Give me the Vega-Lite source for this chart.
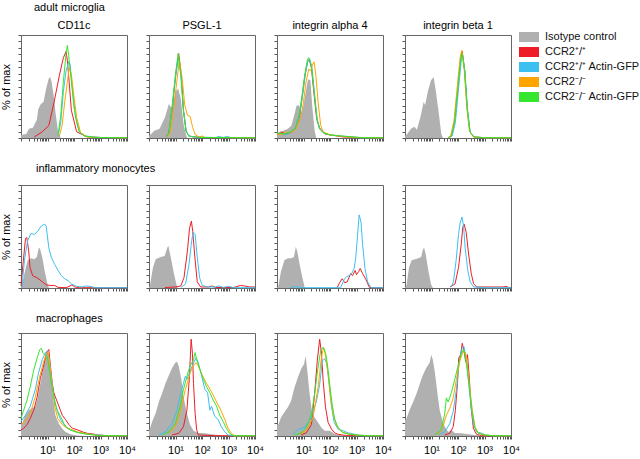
{
"$schema": "https://vega.github.io/schema/vega-lite/v6.json",
"padding": {"left": 0, "top": 2, "right": 0, "bottom": 0},
"background": "white",
"spacing": 21,
"config": {
 "view": {"stroke": "#666", "strokeWidth": 1},
 "title": {"font": "Liberation Sans", "fontSize": 11, "fontWeight": "normal", "color": "#000", "offset": 4},
 "axis": {"grid": false, "tickSize": 3, "domainColor": "#666", "tickColor": "#555", "labelFont": "Liberation Sans", "labelFontSize": 11, "labelColor": "#000", "titleFont": "Liberation Sans", "titleFontSize": 11, "titleFontWeight": "normal", "titleColor": "#000", "labelOverlap": false, "labelFlush": false, "titlePadding": 6, "labelPadding": 5},
 "line": {"strokeWidth": 1},
 "legend": {"orient": "none", "legendX": 498, "legendY": -8, "title": null, "symbolType": "M-1,-0.5H1V0.5H-1Z", "symbolSize": 400, "labelFont": "Liberation Sans", "labelFontSize": 11, "labelColor": "#111", "rowPadding": 0, "labelOffset": 6, "symbolStrokeWidth": 0, "symbolOpacity": 1}
},
"datasets": {
"mg_CD11c": [
{"series":"iso","logFL":0,"pct":3},{"series":"iso","logFL":0.2,"pct":4},{"series":"iso","logFL":0.3,"pct":9},{"series":"iso","logFL":0.45,"pct":10},{"series":"iso","logFL":0.6,"pct":18},{"series":"iso","logFL":0.65,"pct":28},{"series":"iso","logFL":0.75,"pct":33},{"series":"iso","logFL":0.85,"pct":35},{"series":"iso","logFL":0.95,"pct":48},{"series":"iso","logFL":1.05,"pct":58},{"series":"iso","logFL":1.1,"pct":59},{"series":"iso","logFL":1.15,"pct":55},{"series":"iso","logFL":1.25,"pct":38},{"series":"iso","logFL":1.3,"pct":25},{"series":"iso","logFL":1.4,"pct":6},{"series":"iso","logFL":1.5,"pct":0},
{"series":"wt","logFL":0.5,"pct":1},{"series":"wt","logFL":0.8,"pct":6},{"series":"wt","logFL":1.05,"pct":12},{"series":"wt","logFL":1.25,"pct":35},{"series":"wt","logFL":1.45,"pct":61},{"series":"wt","logFL":1.6,"pct":78},{"series":"wt","logFL":1.7,"pct":84},{"series":"wt","logFL":1.75,"pct":75},{"series":"wt","logFL":1.8,"pct":60},{"series":"wt","logFL":1.9,"pct":27},{"series":"wt","logFL":2.1,"pct":6},{"series":"wt","logFL":2.5,"pct":1},{"series":"wt","logFL":3,"pct":0.5},{"series":"wt","logFL":4,"pct":0.3},
{"series":"wtGFP","logFL":1.4,"pct":2},{"series":"wtGFP","logFL":1.5,"pct":15},{"series":"wtGFP","logFL":1.6,"pct":45},{"series":"wtGFP","logFL":1.7,"pct":65},{"series":"wtGFP","logFL":1.8,"pct":74},{"series":"wtGFP","logFL":1.85,"pct":72},{"series":"wtGFP","logFL":1.95,"pct":45},{"series":"wtGFP","logFL":2.05,"pct":22},{"series":"wtGFP","logFL":2.2,"pct":6},{"series":"wtGFP","logFL":2.4,"pct":2},{"series":"wtGFP","logFL":3,"pct":0.5},{"series":"wtGFP","logFL":4,"pct":0.3},
{"series":"ko","logFL":1.45,"pct":2},{"series":"ko","logFL":1.55,"pct":12},{"series":"ko","logFL":1.65,"pct":35},{"series":"ko","logFL":1.75,"pct":55},{"series":"ko","logFL":1.82,"pct":68},{"series":"ko","logFL":1.9,"pct":62},{"series":"ko","logFL":2,"pct":40},{"series":"ko","logFL":2.1,"pct":20},{"series":"ko","logFL":2.25,"pct":5},{"series":"ko","logFL":2.5,"pct":1},{"series":"ko","logFL":3,"pct":0.5},{"series":"ko","logFL":4,"pct":0.3},
{"series":"koGFP","logFL":1.4,"pct":3},{"series":"koGFP","logFL":1.5,"pct":22},{"series":"koGFP","logFL":1.6,"pct":55},{"series":"koGFP","logFL":1.7,"pct":82},{"series":"koGFP","logFL":1.75,"pct":90},{"series":"koGFP","logFL":1.8,"pct":80},{"series":"koGFP","logFL":1.9,"pct":55},{"series":"koGFP","logFL":2,"pct":30},{"series":"koGFP","logFL":2.1,"pct":15},{"series":"koGFP","logFL":2.2,"pct":6},{"series":"koGFP","logFL":2.4,"pct":2},{"series":"koGFP","logFL":2.8,"pct":0.5},{"series":"koGFP","logFL":4,"pct":0.3}
],
"mg_PSGL1": [
{"series":"iso","logFL":0,"pct":2},{"series":"iso","logFL":0.2,"pct":7},{"series":"iso","logFL":0.4,"pct":9},{"series":"iso","logFL":0.6,"pct":20},{"series":"iso","logFL":0.75,"pct":33},{"series":"iso","logFL":0.85,"pct":29},{"series":"iso","logFL":1,"pct":45},{"series":"iso","logFL":1.1,"pct":48},{"series":"iso","logFL":1.2,"pct":38},{"series":"iso","logFL":1.3,"pct":14},{"series":"iso","logFL":1.4,"pct":3},{"series":"iso","logFL":1.45,"pct":0},
{"series":"wt","logFL":0.65,"pct":1},{"series":"wt","logFL":0.75,"pct":5},{"series":"wt","logFL":0.87,"pct":28},{"series":"wt","logFL":1,"pct":60},{"series":"wt","logFL":1.12,"pct":82},{"series":"wt","logFL":1.22,"pct":60},{"series":"wt","logFL":1.3,"pct":27},{"series":"wt","logFL":1.4,"pct":7},{"series":"wt","logFL":1.5,"pct":2},{"series":"wt","logFL":1.7,"pct":1},{"series":"wt","logFL":2,"pct":0.5},{"series":"wt","logFL":4,"pct":0.3},
{"series":"wtGFP","logFL":0.65,"pct":1},{"series":"wtGFP","logFL":0.75,"pct":4},{"series":"wtGFP","logFL":0.87,"pct":26},{"series":"wtGFP","logFL":1,"pct":58},{"series":"wtGFP","logFL":1.1,"pct":78},{"series":"wtGFP","logFL":1.2,"pct":62},{"series":"wtGFP","logFL":1.3,"pct":28},{"series":"wtGFP","logFL":1.4,"pct":7},{"series":"wtGFP","logFL":1.5,"pct":2},{"series":"wtGFP","logFL":1.7,"pct":1},{"series":"wtGFP","logFL":2.5,"pct":0.5},{"series":"wtGFP","logFL":2.65,"pct":1.5},{"series":"wtGFP","logFL":2.8,"pct":0.5},{"series":"wtGFP","logFL":2.95,"pct":1.5},{"series":"wtGFP","logFL":3.1,"pct":0.3},{"series":"wtGFP","logFL":4,"pct":0.3},
{"series":"ko","logFL":0.7,"pct":1},{"series":"ko","logFL":0.8,"pct":6},{"series":"ko","logFL":0.92,"pct":25},{"series":"ko","logFL":1.05,"pct":55},{"series":"ko","logFL":1.15,"pct":76},{"series":"ko","logFL":1.25,"pct":58},{"series":"ko","logFL":1.35,"pct":32},{"series":"ko","logFL":1.45,"pct":22},{"series":"ko","logFL":1.55,"pct":21},{"series":"ko","logFL":1.65,"pct":10},{"series":"ko","logFL":1.75,"pct":3},{"series":"ko","logFL":1.9,"pct":1},{"series":"ko","logFL":2,"pct":2},{"series":"ko","logFL":2.1,"pct":0.5},{"series":"ko","logFL":4,"pct":0.3},
{"series":"koGFP","logFL":0.65,"pct":1},{"series":"koGFP","logFL":0.75,"pct":5},{"series":"koGFP","logFL":0.87,"pct":30},{"series":"koGFP","logFL":1,"pct":62},{"series":"koGFP","logFL":1.1,"pct":82},{"series":"koGFP","logFL":1.2,"pct":62},{"series":"koGFP","logFL":1.3,"pct":26},{"series":"koGFP","logFL":1.4,"pct":6},{"series":"koGFP","logFL":1.5,"pct":2},{"series":"koGFP","logFL":1.7,"pct":1},{"series":"koGFP","logFL":2,"pct":0.5},{"series":"koGFP","logFL":4,"pct":0.3}
],
"mg_a4": [
{"series":"iso","logFL":0,"pct":3},{"series":"iso","logFL":0.23,"pct":7},{"series":"iso","logFL":0.41,"pct":9},{"series":"iso","logFL":0.54,"pct":12},{"series":"iso","logFL":0.67,"pct":24},{"series":"iso","logFL":0.73,"pct":31},{"series":"iso","logFL":0.83,"pct":32},{"series":"iso","logFL":0.92,"pct":24},{"series":"iso","logFL":0.98,"pct":29},{"series":"iso","logFL":1.08,"pct":44},{"series":"iso","logFL":1.17,"pct":57},{"series":"iso","logFL":1.26,"pct":56},{"series":"iso","logFL":1.33,"pct":31},{"series":"iso","logFL":1.42,"pct":7},{"series":"iso","logFL":1.48,"pct":0},
{"series":"wt","logFL":0,"pct":3},{"series":"wt","logFL":0.15,"pct":6},{"series":"wt","logFL":0.3,"pct":4},{"series":"wt","logFL":0.5,"pct":5},{"series":"wt","logFL":0.7,"pct":9},{"series":"wt","logFL":0.85,"pct":22},{"series":"wt","logFL":0.95,"pct":40},{"series":"wt","logFL":1.05,"pct":60},{"series":"wt","logFL":1.15,"pct":74},{"series":"wt","logFL":1.22,"pct":76},{"series":"wt","logFL":1.3,"pct":68},{"series":"wt","logFL":1.4,"pct":42},{"series":"wt","logFL":1.5,"pct":18},{"series":"wt","logFL":1.6,"pct":10},{"series":"wt","logFL":1.7,"pct":7},{"series":"wt","logFL":1.8,"pct":4},{"series":"wt","logFL":2,"pct":3},{"series":"wt","logFL":2.5,"pct":1},{"series":"wt","logFL":3,"pct":0.5},{"series":"wt","logFL":4,"pct":0.3},
{"series":"wtGFP","logFL":0,"pct":4},{"series":"wtGFP","logFL":0.3,"pct":3},{"series":"wtGFP","logFL":0.5,"pct":5},{"series":"wtGFP","logFL":0.7,"pct":9},{"series":"wtGFP","logFL":0.87,"pct":24},{"series":"wtGFP","logFL":0.97,"pct":42},{"series":"wtGFP","logFL":1.07,"pct":62},{"series":"wtGFP","logFL":1.17,"pct":75},{"series":"wtGFP","logFL":1.23,"pct":77},{"series":"wtGFP","logFL":1.32,"pct":68},{"series":"wtGFP","logFL":1.42,"pct":42},{"series":"wtGFP","logFL":1.52,"pct":18},{"series":"wtGFP","logFL":1.62,"pct":9},{"series":"wtGFP","logFL":1.75,"pct":5},{"series":"wtGFP","logFL":2,"pct":3},{"series":"wtGFP","logFL":2.4,"pct":2},{"series":"wtGFP","logFL":2.9,"pct":1},{"series":"wtGFP","logFL":3.2,"pct":0.3},{"series":"wtGFP","logFL":4,"pct":0.3},
{"series":"ko","logFL":0,"pct":4},{"series":"ko","logFL":0.2,"pct":3},{"series":"ko","logFL":0.35,"pct":6},{"series":"ko","logFL":0.5,"pct":5},{"series":"ko","logFL":0.7,"pct":8},{"series":"ko","logFL":0.9,"pct":20},{"series":"ko","logFL":1,"pct":35},{"series":"ko","logFL":1.1,"pct":55},{"series":"ko","logFL":1.2,"pct":67},{"series":"ko","logFL":1.27,"pct":65},{"series":"ko","logFL":1.35,"pct":72},{"series":"ko","logFL":1.4,"pct":74},{"series":"ko","logFL":1.47,"pct":60},{"series":"ko","logFL":1.55,"pct":35},{"series":"ko","logFL":1.65,"pct":12},{"series":"ko","logFL":1.75,"pct":6},{"series":"ko","logFL":2,"pct":3},{"series":"ko","logFL":2.5,"pct":1.5},{"series":"ko","logFL":3,"pct":0.5},{"series":"ko","logFL":4,"pct":0.3},
{"series":"koGFP","logFL":0,"pct":5},{"series":"koGFP","logFL":0.3,"pct":4},{"series":"koGFP","logFL":0.5,"pct":6},{"series":"koGFP","logFL":0.7,"pct":10},{"series":"koGFP","logFL":0.85,"pct":25},{"series":"koGFP","logFL":0.95,"pct":42},{"series":"koGFP","logFL":1.05,"pct":62},{"series":"koGFP","logFL":1.15,"pct":76},{"series":"koGFP","logFL":1.2,"pct":78},{"series":"koGFP","logFL":1.3,"pct":70},{"series":"koGFP","logFL":1.4,"pct":45},{"series":"koGFP","logFL":1.5,"pct":20},{"series":"koGFP","logFL":1.6,"pct":9},{"series":"koGFP","logFL":1.75,"pct":5},{"series":"koGFP","logFL":2,"pct":3},{"series":"koGFP","logFL":2.4,"pct":2},{"series":"koGFP","logFL":2.9,"pct":1},{"series":"koGFP","logFL":3.2,"pct":0.3},{"series":"koGFP","logFL":4,"pct":0.3}
],
"mg_b1": [
{"series":"iso","logFL":0,"pct":2},{"series":"iso","logFL":0.08,"pct":4},{"series":"iso","logFL":0.23,"pct":9},{"series":"iso","logFL":0.35,"pct":11},{"series":"iso","logFL":0.45,"pct":8},{"series":"iso","logFL":0.6,"pct":22},{"series":"iso","logFL":0.7,"pct":35},{"series":"iso","logFL":0.76,"pct":32},{"series":"iso","logFL":0.86,"pct":45},{"series":"iso","logFL":0.98,"pct":56},{"series":"iso","logFL":1.08,"pct":59},{"series":"iso","logFL":1.15,"pct":48},{"series":"iso","logFL":1.27,"pct":25},{"series":"iso","logFL":1.37,"pct":4},{"series":"iso","logFL":1.43,"pct":0},
{"series":"wt","logFL":1.65,"pct":0.5},{"series":"wt","logFL":1.75,"pct":2},{"series":"wt","logFL":1.87,"pct":16},{"series":"wt","logFL":2,"pct":50},{"series":"wt","logFL":2.1,"pct":77},{"series":"wt","logFL":2.16,"pct":84},{"series":"wt","logFL":2.25,"pct":66},{"series":"wt","logFL":2.35,"pct":28},{"series":"wt","logFL":2.45,"pct":6},{"series":"wt","logFL":2.6,"pct":1},{"series":"wt","logFL":3,"pct":0.3},{"series":"wt","logFL":4,"pct":0.3},
{"series":"wtGFP","logFL":1.68,"pct":0.5},{"series":"wtGFP","logFL":1.78,"pct":2},{"series":"wtGFP","logFL":1.9,"pct":15},{"series":"wtGFP","logFL":2.02,"pct":48},{"series":"wtGFP","logFL":2.12,"pct":74},{"series":"wtGFP","logFL":2.18,"pct":80},{"series":"wtGFP","logFL":2.26,"pct":65},{"series":"wtGFP","logFL":2.36,"pct":28},{"series":"wtGFP","logFL":2.46,"pct":6},{"series":"wtGFP","logFL":2.6,"pct":1},{"series":"wtGFP","logFL":3,"pct":0.3},{"series":"wtGFP","logFL":4,"pct":0.3},
{"series":"ko","logFL":1.62,"pct":0.5},{"series":"ko","logFL":1.72,"pct":2},{"series":"ko","logFL":1.85,"pct":17},{"series":"ko","logFL":1.98,"pct":52},{"series":"ko","logFL":2.08,"pct":78},{"series":"ko","logFL":2.14,"pct":85},{"series":"ko","logFL":2.23,"pct":68},{"series":"ko","logFL":2.33,"pct":30},{"series":"ko","logFL":2.43,"pct":7},{"series":"ko","logFL":2.58,"pct":1},{"series":"ko","logFL":3,"pct":0.3},{"series":"ko","logFL":4,"pct":0.3},
{"series":"koGFP","logFL":1.65,"pct":0.5},{"series":"koGFP","logFL":1.75,"pct":2},{"series":"koGFP","logFL":1.87,"pct":16},{"series":"koGFP","logFL":2,"pct":50},{"series":"koGFP","logFL":2.1,"pct":76},{"series":"koGFP","logFL":2.16,"pct":82},{"series":"koGFP","logFL":2.25,"pct":65},{"series":"koGFP","logFL":2.35,"pct":28},{"series":"koGFP","logFL":2.45,"pct":6},{"series":"koGFP","logFL":2.6,"pct":1},{"series":"koGFP","logFL":3,"pct":0.3},{"series":"koGFP","logFL":4,"pct":0.3}
],
"mo_CD11c": [
{"series":"iso","logFL":0,"pct":0},{"series":"iso","logFL":0.04,"pct":3},{"series":"iso","logFL":0.13,"pct":14},{"series":"iso","logFL":0.25,"pct":27},{"series":"iso","logFL":0.38,"pct":29},{"series":"iso","logFL":0.5,"pct":28},{"series":"iso","logFL":0.6,"pct":30},{"series":"iso","logFL":0.67,"pct":39},{"series":"iso","logFL":0.72,"pct":38},{"series":"iso","logFL":0.8,"pct":30},{"series":"iso","logFL":0.89,"pct":17},{"series":"iso","logFL":0.98,"pct":6},{"series":"iso","logFL":1.05,"pct":0},
{"series":"wt","logFL":0,"pct":2},{"series":"wt","logFL":0.09,"pct":27},{"series":"wt","logFL":0.17,"pct":48},{"series":"wt","logFL":0.22,"pct":49},{"series":"wt","logFL":0.29,"pct":36},{"series":"wt","logFL":0.34,"pct":20},{"series":"wt","logFL":0.44,"pct":12},{"series":"wt","logFL":0.6,"pct":10},{"series":"wt","logFL":0.76,"pct":7},{"series":"wt","logFL":0.95,"pct":3},{"series":"wt","logFL":1.1,"pct":2.5},{"series":"wt","logFL":1.27,"pct":2.5},{"series":"wt","logFL":1.4,"pct":0.6},{"series":"wt","logFL":1.7,"pct":0.3},{"series":"wt","logFL":1.85,"pct":2},{"series":"wt","logFL":1.92,"pct":3},{"series":"wt","logFL":2.03,"pct":1},{"series":"wt","logFL":2.2,"pct":0.3},{"series":"wt","logFL":4,"pct":0.3},
{"series":"wtGFP","logFL":0.04,"pct":1},{"series":"wtGFP","logFL":0.13,"pct":27},{"series":"wtGFP","logFL":0.25,"pct":46},{"series":"wtGFP","logFL":0.38,"pct":53},{"series":"wtGFP","logFL":0.5,"pct":52},{"series":"wtGFP","logFL":0.63,"pct":55},{"series":"wtGFP","logFL":0.76,"pct":60},{"series":"wtGFP","logFL":0.89,"pct":62},{"series":"wtGFP","logFL":0.95,"pct":60},{"series":"wtGFP","logFL":1.05,"pct":39},{"series":"wtGFP","logFL":1.14,"pct":30},{"series":"wtGFP","logFL":1.27,"pct":23},{"series":"wtGFP","logFL":1.4,"pct":17},{"series":"wtGFP","logFL":1.52,"pct":12},{"series":"wtGFP","logFL":1.65,"pct":9},{"series":"wtGFP","logFL":1.78,"pct":7},{"series":"wtGFP","logFL":1.9,"pct":4},{"series":"wtGFP","logFL":2.1,"pct":1.6},{"series":"wtGFP","logFL":2.3,"pct":1},{"series":"wtGFP","logFL":2.45,"pct":2},{"series":"wtGFP","logFL":2.6,"pct":1.6},{"series":"wtGFP","logFL":2.8,"pct":0.3},{"series":"wtGFP","logFL":4,"pct":0.3}
],
"mo_PSGL1": [
{"series":"iso","logFL":0,"pct":0},{"series":"iso","logFL":0.04,"pct":3},{"series":"iso","logFL":0.15,"pct":20},{"series":"iso","logFL":0.25,"pct":28},{"series":"iso","logFL":0.44,"pct":30},{"series":"iso","logFL":0.59,"pct":31},{"series":"iso","logFL":0.69,"pct":39},{"series":"iso","logFL":0.73,"pct":41},{"series":"iso","logFL":0.82,"pct":30},{"series":"iso","logFL":0.94,"pct":14},{"series":"iso","logFL":1.04,"pct":3},{"series":"iso","logFL":1.09,"pct":0},
{"series":"wt","logFL":0.6,"pct":0.5},{"series":"wt","logFL":1,"pct":1},{"series":"wt","logFL":1.2,"pct":2},{"series":"wt","logFL":1.32,"pct":10},{"series":"wt","logFL":1.45,"pct":36},{"series":"wt","logFL":1.53,"pct":58},{"series":"wt","logFL":1.6,"pct":65},{"series":"wt","logFL":1.65,"pct":55},{"series":"wt","logFL":1.73,"pct":30},{"series":"wt","logFL":1.82,"pct":6},{"series":"wt","logFL":1.95,"pct":1},{"series":"wt","logFL":2.25,"pct":1},{"series":"wt","logFL":2.38,"pct":2},{"series":"wt","logFL":2.5,"pct":0.5},{"series":"wt","logFL":3.2,"pct":0.5},{"series":"wt","logFL":3.45,"pct":2.5},{"series":"wt","logFL":3.6,"pct":2},{"series":"wt","logFL":3.8,"pct":1},{"series":"wt","logFL":4,"pct":1},
{"series":"wtGFP","logFL":1.2,"pct":0.5},{"series":"wtGFP","logFL":1.38,"pct":4},{"series":"wtGFP","logFL":1.51,"pct":23},{"series":"wtGFP","logFL":1.61,"pct":46},{"series":"wtGFP","logFL":1.67,"pct":54},{"series":"wtGFP","logFL":1.74,"pct":52},{"series":"wtGFP","logFL":1.82,"pct":30},{"series":"wtGFP","logFL":1.91,"pct":10},{"series":"wtGFP","logFL":2.01,"pct":2.5},{"series":"wtGFP","logFL":2.2,"pct":1},{"series":"wtGFP","logFL":2.5,"pct":1},{"series":"wtGFP","logFL":2.64,"pct":2},{"series":"wtGFP","logFL":2.8,"pct":0.5},{"series":"wtGFP","logFL":3,"pct":1.6},{"series":"wtGFP","logFL":3.2,"pct":0.3},{"series":"wtGFP","logFL":4,"pct":0.3}
],
"mo_a4": [
{"series":"iso","logFL":0,"pct":0},{"series":"iso","logFL":0.05,"pct":2},{"series":"iso","logFL":0.15,"pct":16},{"series":"iso","logFL":0.28,"pct":27},{"series":"iso","logFL":0.41,"pct":29},{"series":"iso","logFL":0.54,"pct":29},{"series":"iso","logFL":0.64,"pct":30},{"series":"iso","logFL":0.71,"pct":40},{"series":"iso","logFL":0.77,"pct":35},{"series":"iso","logFL":0.86,"pct":22},{"series":"iso","logFL":0.96,"pct":10},{"series":"iso","logFL":1.05,"pct":0},
{"series":"wt","logFL":2.27,"pct":0.3},{"series":"wt","logFL":2.36,"pct":5},{"series":"wt","logFL":2.46,"pct":9},{"series":"wt","logFL":2.56,"pct":5},{"series":"wt","logFL":2.65,"pct":6},{"series":"wt","logFL":2.78,"pct":14},{"series":"wt","logFL":2.85,"pct":12},{"series":"wt","logFL":2.95,"pct":17},{"series":"wt","logFL":3,"pct":13},{"series":"wt","logFL":3.08,"pct":16},{"series":"wt","logFL":3.14,"pct":19},{"series":"wt","logFL":3.23,"pct":14},{"series":"wt","logFL":3.36,"pct":8},{"series":"wt","logFL":3.49,"pct":0.3},{"series":"wt","logFL":4,"pct":0.3},
{"series":"wtGFP","logFL":0.5,"pct":0.3},{"series":"wtGFP","logFL":0.6,"pct":1.2},{"series":"wtGFP","logFL":0.75,"pct":1.2},{"series":"wtGFP","logFL":0.85,"pct":0.3},{"series":"wtGFP","logFL":2.4,"pct":0.3},{"series":"wtGFP","logFL":2.53,"pct":8},{"series":"wtGFP","logFL":2.62,"pct":11},{"series":"wtGFP","logFL":2.72,"pct":12},{"series":"wtGFP","logFL":2.82,"pct":14},{"series":"wtGFP","logFL":2.91,"pct":19},{"series":"wtGFP","logFL":2.97,"pct":29},{"series":"wtGFP","logFL":3.04,"pct":51},{"series":"wtGFP","logFL":3.1,"pct":71},{"series":"wtGFP","logFL":3.17,"pct":64},{"series":"wtGFP","logFL":3.23,"pct":42},{"series":"wtGFP","logFL":3.32,"pct":19},{"series":"wtGFP","logFL":3.42,"pct":6},{"series":"wtGFP","logFL":3.55,"pct":0.3},{"series":"wtGFP","logFL":4,"pct":0.3}
],
"mo_b1": [
{"series":"iso","logFL":0,"pct":0},{"series":"iso","logFL":0.06,"pct":3},{"series":"iso","logFL":0.15,"pct":20},{"series":"iso","logFL":0.25,"pct":27},{"series":"iso","logFL":0.38,"pct":28},{"series":"iso","logFL":0.5,"pct":29},{"series":"iso","logFL":0.61,"pct":30},{"series":"iso","logFL":0.67,"pct":37},{"series":"iso","logFL":0.72,"pct":39},{"series":"iso","logFL":0.78,"pct":33},{"series":"iso","logFL":0.88,"pct":17},{"series":"iso","logFL":0.98,"pct":4},{"series":"iso","logFL":1.05,"pct":0},
{"series":"wt","logFL":1.7,"pct":1},{"series":"wt","logFL":1.89,"pct":4},{"series":"wt","logFL":2.02,"pct":20},{"series":"wt","logFL":2.12,"pct":42},{"series":"wt","logFL":2.18,"pct":59},{"series":"wt","logFL":2.23,"pct":62},{"series":"wt","logFL":2.31,"pct":54},{"series":"wt","logFL":2.4,"pct":33},{"series":"wt","logFL":2.5,"pct":14},{"series":"wt","logFL":2.59,"pct":4},{"series":"wt","logFL":2.71,"pct":1},{"series":"wt","logFL":2.9,"pct":1},{"series":"wt","logFL":3.72,"pct":1},{"series":"wt","logFL":3.81,"pct":1.6},{"series":"wt","logFL":3.91,"pct":0.5},{"series":"wt","logFL":4,"pct":0.5},
{"series":"wtGFP","logFL":1.74,"pct":1},{"series":"wtGFP","logFL":1.83,"pct":6},{"series":"wtGFP","logFL":1.93,"pct":27},{"series":"wtGFP","logFL":2.02,"pct":52},{"series":"wtGFP","logFL":2.08,"pct":63},{"series":"wtGFP","logFL":2.15,"pct":69},{"series":"wtGFP","logFL":2.21,"pct":60},{"series":"wtGFP","logFL":2.27,"pct":39},{"series":"wtGFP","logFL":2.37,"pct":17},{"series":"wtGFP","logFL":2.46,"pct":6},{"series":"wtGFP","logFL":2.59,"pct":1},{"series":"wtGFP","logFL":3,"pct":0.3},{"series":"wtGFP","logFL":4,"pct":0.3}
],
"ma_CD11c": [
{"series":"iso","logFL":0,"pct":12},{"series":"iso","logFL":0.04,"pct":12},{"series":"iso","logFL":0.16,"pct":20},{"series":"iso","logFL":0.29,"pct":25},{"series":"iso","logFL":0.42,"pct":27},{"series":"iso","logFL":0.54,"pct":29},{"series":"iso","logFL":0.61,"pct":35},{"series":"iso","logFL":0.71,"pct":48},{"series":"iso","logFL":0.8,"pct":61},{"series":"iso","logFL":0.89,"pct":72},{"series":"iso","logFL":0.96,"pct":79},{"series":"iso","logFL":1.01,"pct":81},{"series":"iso","logFL":1.08,"pct":72},{"series":"iso","logFL":1.14,"pct":55},{"series":"iso","logFL":1.22,"pct":35},{"series":"iso","logFL":1.3,"pct":20},{"series":"iso","logFL":1.43,"pct":12},{"series":"iso","logFL":1.56,"pct":7},{"series":"iso","logFL":1.68,"pct":4},{"series":"iso","logFL":1.87,"pct":1.6},{"series":"iso","logFL":2.13,"pct":0.6},{"series":"iso","logFL":2.5,"pct":0},
{"series":"wt","logFL":0,"pct":6},{"series":"wt","logFL":0.1,"pct":7.5},{"series":"wt","logFL":0.23,"pct":11},{"series":"wt","logFL":0.35,"pct":17},{"series":"wt","logFL":0.48,"pct":25},{"series":"wt","logFL":0.61,"pct":38},{"series":"wt","logFL":0.73,"pct":56},{"series":"wt","logFL":0.86,"pct":69},{"series":"wt","logFL":0.96,"pct":81},{"series":"wt","logFL":1.05,"pct":84},{"series":"wt","logFL":1.11,"pct":68},{"series":"wt","logFL":1.18,"pct":51},{"series":"wt","logFL":1.24,"pct":42},{"series":"wt","logFL":1.34,"pct":35},{"series":"wt","logFL":1.43,"pct":29},{"series":"wt","logFL":1.56,"pct":20},{"series":"wt","logFL":1.68,"pct":16},{"series":"wt","logFL":1.81,"pct":11},{"series":"wt","logFL":1.94,"pct":7.5},{"series":"wt","logFL":2.13,"pct":6},{"series":"wt","logFL":2.32,"pct":4},{"series":"wt","logFL":2.5,"pct":2.6},{"series":"wt","logFL":2.7,"pct":2},{"series":"wt","logFL":2.89,"pct":1},{"series":"wt","logFL":3.27,"pct":0.3},{"series":"wt","logFL":4,"pct":0.3},
{"series":"wtGFP","logFL":0,"pct":14},{"series":"wtGFP","logFL":0.16,"pct":20},{"series":"wtGFP","logFL":0.35,"pct":29},{"series":"wtGFP","logFL":0.54,"pct":45},{"series":"wtGFP","logFL":0.66,"pct":61},{"series":"wtGFP","logFL":0.8,"pct":74},{"series":"wtGFP","logFL":0.92,"pct":81},{"series":"wtGFP","logFL":0.99,"pct":82},{"series":"wtGFP","logFL":1.05,"pct":77},{"series":"wtGFP","logFL":1.14,"pct":58},{"series":"wtGFP","logFL":1.24,"pct":38},{"series":"wtGFP","logFL":1.37,"pct":24},{"series":"wtGFP","logFL":1.49,"pct":16},{"series":"wtGFP","logFL":1.68,"pct":9},{"series":"wtGFP","logFL":1.87,"pct":6},{"series":"wtGFP","logFL":2.13,"pct":3.6},{"series":"wtGFP","logFL":2.5,"pct":2},{"series":"wtGFP","logFL":2.89,"pct":1},{"series":"wtGFP","logFL":3.27,"pct":0.3},{"series":"wtGFP","logFL":4,"pct":0.3},
{"series":"ko","logFL":0,"pct":11},{"series":"ko","logFL":0.16,"pct":14},{"series":"ko","logFL":0.35,"pct":22},{"series":"ko","logFL":0.54,"pct":38},{"series":"ko","logFL":0.71,"pct":58},{"series":"ko","logFL":0.84,"pct":71},{"series":"ko","logFL":0.96,"pct":80},{"series":"ko","logFL":1.03,"pct":81},{"series":"ko","logFL":1.09,"pct":68},{"series":"ko","logFL":1.18,"pct":48},{"series":"ko","logFL":1.27,"pct":29},{"series":"ko","logFL":1.39,"pct":17},{"series":"ko","logFL":1.56,"pct":11},{"series":"ko","logFL":1.75,"pct":7.5},{"series":"ko","logFL":1.94,"pct":6},{"series":"ko","logFL":2.13,"pct":4},{"series":"ko","logFL":2.5,"pct":2},{"series":"ko","logFL":3,"pct":0.3},{"series":"ko","logFL":4,"pct":0.3},
{"series":"koGFP","logFL":0,"pct":17},{"series":"koGFP","logFL":0.1,"pct":25},{"series":"koGFP","logFL":0.23,"pct":35},{"series":"koGFP","logFL":0.35,"pct":48},{"series":"koGFP","logFL":0.48,"pct":64},{"series":"koGFP","logFL":0.61,"pct":76},{"series":"koGFP","logFL":0.71,"pct":84},{"series":"koGFP","logFL":0.77,"pct":85},{"series":"koGFP","logFL":0.84,"pct":80},{"series":"koGFP","logFL":0.9,"pct":79},{"series":"koGFP","logFL":0.99,"pct":77},{"series":"koGFP","logFL":1.09,"pct":61},{"series":"koGFP","logFL":1.18,"pct":46},{"series":"koGFP","logFL":1.28,"pct":32},{"series":"koGFP","logFL":1.37,"pct":25},{"series":"koGFP","logFL":1.49,"pct":19},{"series":"koGFP","logFL":1.62,"pct":12},{"series":"koGFP","logFL":1.75,"pct":7.5},{"series":"koGFP","logFL":1.94,"pct":5},{"series":"koGFP","logFL":2.19,"pct":3},{"series":"koGFP","logFL":2.5,"pct":1.6},{"series":"koGFP","logFL":2.89,"pct":0.6},{"series":"koGFP","logFL":3.27,"pct":0.3},{"series":"koGFP","logFL":4,"pct":0.3}
],
"ma_PSGL1": [
{"series":"iso","logFL":0,"pct":5},{"series":"iso","logFL":0.02,"pct":6},{"series":"iso","logFL":0.12,"pct":14},{"series":"iso","logFL":0.25,"pct":22},{"series":"iso","logFL":0.37,"pct":33},{"series":"iso","logFL":0.5,"pct":42},{"series":"iso","logFL":0.62,"pct":51},{"series":"iso","logFL":0.75,"pct":59},{"series":"iso","logFL":0.87,"pct":66},{"series":"iso","logFL":0.99,"pct":71},{"series":"iso","logFL":1.06,"pct":72},{"series":"iso","logFL":1.12,"pct":68},{"series":"iso","logFL":1.22,"pct":55},{"series":"iso","logFL":1.3,"pct":38},{"series":"iso","logFL":1.43,"pct":22},{"series":"iso","logFL":1.55,"pct":11},{"series":"iso","logFL":1.68,"pct":5},{"series":"iso","logFL":1.86,"pct":3},{"series":"iso","logFL":2.11,"pct":2.6},{"series":"iso","logFL":2.36,"pct":1.6},{"series":"iso","logFL":2.61,"pct":1},{"series":"iso","logFL":2.86,"pct":0.3},{"series":"iso","logFL":3.1,"pct":0},
{"series":"wt","logFL":0.87,"pct":1},{"series":"wt","logFL":1.12,"pct":2.6},{"series":"wt","logFL":1.3,"pct":9},{"series":"wt","logFL":1.43,"pct":25},{"series":"wt","logFL":1.52,"pct":55},{"series":"wt","logFL":1.59,"pct":94},{"series":"wt","logFL":1.64,"pct":80},{"series":"wt","logFL":1.68,"pct":51},{"series":"wt","logFL":1.74,"pct":22},{"series":"wt","logFL":1.8,"pct":6},{"series":"wt","logFL":1.86,"pct":1},{"series":"wt","logFL":2.5,"pct":0.3},{"series":"wt","logFL":4,"pct":0.3},
{"series":"wtGFP","logFL":0.37,"pct":1},{"series":"wtGFP","logFL":0.62,"pct":4},{"series":"wtGFP","logFL":0.87,"pct":12},{"series":"wtGFP","logFL":1.06,"pct":25},{"series":"wtGFP","logFL":1.18,"pct":40},{"series":"wtGFP","logFL":1.3,"pct":51},{"series":"wtGFP","logFL":1.37,"pct":58},{"series":"wtGFP","logFL":1.43,"pct":55},{"series":"wtGFP","logFL":1.55,"pct":63},{"series":"wtGFP","logFL":1.68,"pct":71},{"series":"wtGFP","logFL":1.78,"pct":76},{"series":"wtGFP","logFL":1.86,"pct":71},{"series":"wtGFP","logFL":1.99,"pct":58},{"series":"wtGFP","logFL":2.11,"pct":45},{"series":"wtGFP","logFL":2.21,"pct":42},{"series":"wtGFP","logFL":2.3,"pct":25},{"series":"wtGFP","logFL":2.36,"pct":29},{"series":"wtGFP","logFL":2.48,"pct":19},{"series":"wtGFP","logFL":2.61,"pct":16},{"series":"wtGFP","logFL":2.73,"pct":9},{"series":"wtGFP","logFL":2.86,"pct":4},{"series":"wtGFP","logFL":2.98,"pct":1},{"series":"wtGFP","logFL":3.2,"pct":0.3},{"series":"wtGFP","logFL":4,"pct":0.3},
{"series":"ko","logFL":0.75,"pct":2.6},{"series":"ko","logFL":0.99,"pct":9},{"series":"ko","logFL":1.18,"pct":24},{"series":"ko","logFL":1.37,"pct":45},{"series":"ko","logFL":1.55,"pct":61},{"series":"ko","logFL":1.68,"pct":69},{"series":"ko","logFL":1.78,"pct":71},{"series":"ko","logFL":1.86,"pct":68},{"series":"ko","logFL":2.01,"pct":59},{"series":"ko","logFL":2.17,"pct":51},{"series":"ko","logFL":2.36,"pct":43},{"series":"ko","logFL":2.55,"pct":33},{"series":"ko","logFL":2.71,"pct":25},{"series":"ko","logFL":2.86,"pct":16},{"series":"ko","logFL":2.98,"pct":7.5},{"series":"ko","logFL":3.11,"pct":2.6},{"series":"ko","logFL":3.23,"pct":0.3},{"series":"ko","logFL":4,"pct":0.3},
{"series":"koGFP","logFL":0.5,"pct":1},{"series":"koGFP","logFL":0.75,"pct":4},{"series":"koGFP","logFL":0.99,"pct":12},{"series":"koGFP","logFL":1.18,"pct":29},{"series":"koGFP","logFL":1.3,"pct":45},{"series":"koGFP","logFL":1.43,"pct":58},{"series":"koGFP","logFL":1.55,"pct":68},{"series":"koGFP","logFL":1.68,"pct":74},{"series":"koGFP","logFL":1.74,"pct":81},{"series":"koGFP","logFL":1.8,"pct":74},{"series":"koGFP","logFL":1.93,"pct":64},{"series":"koGFP","logFL":2.05,"pct":55},{"series":"koGFP","logFL":2.17,"pct":48},{"series":"koGFP","logFL":2.3,"pct":42},{"series":"koGFP","logFL":2.42,"pct":35},{"series":"koGFP","logFL":2.55,"pct":29},{"series":"koGFP","logFL":2.67,"pct":20},{"series":"koGFP","logFL":2.8,"pct":14},{"series":"koGFP","logFL":2.92,"pct":7.5},{"series":"koGFP","logFL":3.04,"pct":2.6},{"series":"koGFP","logFL":3.17,"pct":0.3},{"series":"koGFP","logFL":4,"pct":0.3}
],
"ma_a4": [
{"series":"iso","logFL":0,"pct":11},{"series":"iso","logFL":0.05,"pct":11},{"series":"iso","logFL":0.15,"pct":18},{"series":"iso","logFL":0.28,"pct":23},{"series":"iso","logFL":0.41,"pct":28},{"series":"iso","logFL":0.53,"pct":34},{"series":"iso","logFL":0.66,"pct":47},{"series":"iso","logFL":0.79,"pct":57},{"series":"iso","logFL":0.91,"pct":65},{"series":"iso","logFL":1.02,"pct":70},{"series":"iso","logFL":1.08,"pct":78},{"series":"iso","logFL":1.14,"pct":64},{"series":"iso","logFL":1.23,"pct":41},{"series":"iso","logFL":1.32,"pct":23},{"series":"iso","logFL":1.42,"pct":18},{"series":"iso","logFL":1.55,"pct":13},{"series":"iso","logFL":1.68,"pct":8},{"series":"iso","logFL":1.8,"pct":5},{"series":"iso","logFL":1.99,"pct":5},{"series":"iso","logFL":2.18,"pct":2},{"series":"iso","logFL":2.37,"pct":1},{"series":"iso","logFL":2.63,"pct":0},
{"series":"wt","logFL":0.91,"pct":1},{"series":"wt","logFL":1.1,"pct":3},{"series":"wt","logFL":1.3,"pct":11},{"series":"wt","logFL":1.42,"pct":41},{"series":"wt","logFL":1.52,"pct":73},{"series":"wt","logFL":1.61,"pct":94},{"series":"wt","logFL":1.68,"pct":80},{"series":"wt","logFL":1.74,"pct":54},{"series":"wt","logFL":1.83,"pct":28},{"series":"wt","logFL":1.93,"pct":13},{"series":"wt","logFL":2.06,"pct":6.5},{"series":"wt","logFL":2.18,"pct":3},{"series":"wt","logFL":2.31,"pct":1.6},{"series":"wt","logFL":2.57,"pct":0.6},{"series":"wt","logFL":4,"pct":0.3},
{"series":"wtGFP","logFL":0.6,"pct":1.6},{"series":"wtGFP","logFL":0.79,"pct":6.5},{"series":"wtGFP","logFL":1.04,"pct":8},{"series":"wtGFP","logFL":1.3,"pct":18},{"series":"wtGFP","logFL":1.49,"pct":34},{"series":"wtGFP","logFL":1.61,"pct":50},{"series":"wtGFP","logFL":1.71,"pct":73},{"series":"wtGFP","logFL":1.8,"pct":75},{"series":"wtGFP","logFL":1.88,"pct":70},{"series":"wtGFP","logFL":1.97,"pct":50},{"series":"wtGFP","logFL":2.06,"pct":28},{"series":"wtGFP","logFL":2.16,"pct":13},{"series":"wtGFP","logFL":2.31,"pct":6.5},{"series":"wtGFP","logFL":2.5,"pct":5},{"series":"wtGFP","logFL":2.69,"pct":3},{"series":"wtGFP","logFL":2.88,"pct":2},{"series":"wtGFP","logFL":3.07,"pct":1},{"series":"wtGFP","logFL":3.4,"pct":0.3},{"series":"wtGFP","logFL":4,"pct":0.3},
{"series":"ko","logFL":0.85,"pct":1.6},{"series":"ko","logFL":1.1,"pct":5},{"series":"ko","logFL":1.36,"pct":18},{"series":"ko","logFL":1.55,"pct":47},{"series":"ko","logFL":1.68,"pct":77},{"series":"ko","logFL":1.76,"pct":86},{"series":"ko","logFL":1.83,"pct":78},{"series":"ko","logFL":1.93,"pct":60},{"series":"ko","logFL":2.02,"pct":37},{"series":"ko","logFL":2.12,"pct":21},{"series":"ko","logFL":2.25,"pct":10},{"series":"ko","logFL":2.44,"pct":4},{"series":"ko","logFL":2.69,"pct":2},{"series":"ko","logFL":3.07,"pct":0.6},{"series":"ko","logFL":4,"pct":0.3},
{"series":"koGFP","logFL":0.66,"pct":1},{"series":"koGFP","logFL":0.91,"pct":3},{"series":"koGFP","logFL":1.1,"pct":8},{"series":"koGFP","logFL":1.3,"pct":21},{"series":"koGFP","logFL":1.42,"pct":41},{"series":"koGFP","logFL":1.55,"pct":67},{"series":"koGFP","logFL":1.65,"pct":83},{"series":"koGFP","logFL":1.74,"pct":86},{"series":"koGFP","logFL":1.83,"pct":81},{"series":"koGFP","logFL":1.9,"pct":70},{"series":"koGFP","logFL":1.99,"pct":50},{"series":"koGFP","logFL":2.08,"pct":31},{"series":"koGFP","logFL":2.18,"pct":16},{"series":"koGFP","logFL":2.31,"pct":8},{"series":"koGFP","logFL":2.5,"pct":3},{"series":"koGFP","logFL":2.69,"pct":2},{"series":"koGFP","logFL":2.95,"pct":1},{"series":"koGFP","logFL":3.3,"pct":0.3},{"series":"koGFP","logFL":4,"pct":0.3}
],
"ma_b1": [
{"series":"iso","logFL":0,"pct":16},{"series":"iso","logFL":0.04,"pct":16},{"series":"iso","logFL":0.17,"pct":25},{"series":"iso","logFL":0.29,"pct":32},{"series":"iso","logFL":0.42,"pct":40},{"series":"iso","logFL":0.55,"pct":50},{"series":"iso","logFL":0.67,"pct":59},{"series":"iso","logFL":0.8,"pct":66},{"series":"iso","logFL":0.93,"pct":71},{"series":"iso","logFL":0.99,"pct":79},{"series":"iso","logFL":1.05,"pct":74},{"series":"iso","logFL":1.12,"pct":63},{"series":"iso","logFL":1.18,"pct":51},{"series":"iso","logFL":1.24,"pct":38},{"series":"iso","logFL":1.31,"pct":25},{"series":"iso","logFL":1.4,"pct":16},{"series":"iso","logFL":1.5,"pct":9},{"series":"iso","logFL":1.63,"pct":4},{"series":"iso","logFL":1.75,"pct":6},{"series":"iso","logFL":1.88,"pct":3},{"series":"iso","logFL":2.13,"pct":2.6},{"series":"iso","logFL":2.39,"pct":1.6},{"series":"iso","logFL":2.64,"pct":1},{"series":"iso","logFL":2.9,"pct":0},
{"series":"wt","logFL":1.5,"pct":1},{"series":"wt","logFL":1.69,"pct":2.6},{"series":"wt","logFL":1.82,"pct":9},{"series":"wt","logFL":1.9,"pct":25},{"series":"wt","logFL":1.98,"pct":51},{"series":"wt","logFL":2.03,"pct":76},{"series":"wt","logFL":2.1,"pct":79},{"series":"wt","logFL":2.16,"pct":90},{"series":"wt","logFL":2.22,"pct":84},{"series":"wt","logFL":2.29,"pct":72},{"series":"wt","logFL":2.36,"pct":79},{"series":"wt","logFL":2.43,"pct":55},{"series":"wt","logFL":2.49,"pct":29},{"series":"wt","logFL":2.58,"pct":7.5},{"series":"wt","logFL":2.7,"pct":1.6},{"series":"wt","logFL":2.9,"pct":0.3},{"series":"wt","logFL":4,"pct":0.3},
{"series":"wtGFP","logFL":1.24,"pct":1},{"series":"wtGFP","logFL":1.5,"pct":4},{"series":"wtGFP","logFL":1.69,"pct":12},{"series":"wtGFP","logFL":1.82,"pct":24},{"series":"wtGFP","logFL":1.94,"pct":45},{"series":"wtGFP","logFL":2.03,"pct":68},{"series":"wtGFP","logFL":2.13,"pct":84},{"series":"wtGFP","logFL":2.22,"pct":87},{"series":"wtGFP","logFL":2.3,"pct":77},{"series":"wtGFP","logFL":2.39,"pct":55},{"series":"wtGFP","logFL":2.49,"pct":29},{"series":"wtGFP","logFL":2.58,"pct":12},{"series":"wtGFP","logFL":2.7,"pct":4},{"series":"wtGFP","logFL":2.9,"pct":2.6},{"series":"wtGFP","logFL":3.02,"pct":1},{"series":"wtGFP","logFL":3.3,"pct":0.3},{"series":"wtGFP","logFL":4,"pct":0.3},
{"series":"ko","logFL":1.24,"pct":1},{"series":"ko","logFL":1.43,"pct":9},{"series":"ko","logFL":1.56,"pct":20},{"series":"ko","logFL":1.69,"pct":27},{"series":"ko","logFL":1.82,"pct":37},{"series":"ko","logFL":1.94,"pct":55},{"series":"ko","logFL":2.06,"pct":72},{"series":"ko","logFL":2.19,"pct":82},{"series":"ko","logFL":2.29,"pct":81},{"series":"ko","logFL":2.36,"pct":68},{"series":"ko","logFL":2.45,"pct":45},{"series":"ko","logFL":2.54,"pct":25},{"series":"ko","logFL":2.64,"pct":9},{"series":"ko","logFL":2.77,"pct":2.6},{"series":"ko","logFL":3.02,"pct":1},{"series":"ko","logFL":3.3,"pct":0.3},{"series":"ko","logFL":4,"pct":0.3},
{"series":"koGFP","logFL":1.12,"pct":1},{"series":"koGFP","logFL":1.37,"pct":6},{"series":"koGFP","logFL":1.5,"pct":22},{"series":"koGFP","logFL":1.56,"pct":37},{"series":"koGFP","logFL":1.63,"pct":33},{"series":"koGFP","logFL":1.75,"pct":42},{"series":"koGFP","logFL":1.88,"pct":55},{"series":"koGFP","logFL":2.01,"pct":69},{"series":"koGFP","logFL":2.11,"pct":79},{"series":"koGFP","logFL":2.2,"pct":84},{"series":"koGFP","logFL":2.26,"pct":79},{"series":"koGFP","logFL":2.35,"pct":64},{"series":"koGFP","logFL":2.45,"pct":42},{"series":"koGFP","logFL":2.54,"pct":22},{"series":"koGFP","logFL":2.64,"pct":7.5},{"series":"koGFP","logFL":2.77,"pct":2.6},{"series":"koGFP","logFL":3.02,"pct":1},{"series":"koGFP","logFL":3.3,"pct":0.3},{"series":"koGFP","logFL":4,"pct":0.3}
]
},
"vconcat": [
{"title": {"text": "adult microglia", "anchor": "start", "frame": "group", "offset": 6, "dx": 13}, "bounds": "flush", "spacing": 22, "hconcat": [
 {"data": {"name": "mg_CD11c"}, "title": "CD11c", "width": 106, "height": 103,
  "encoding": {"x": {"field": "logFL", "type": "quantitative", "scale": {"domain": [0, 4], "nice": false, "zero": false}, "axis": {"title": null, "labels": false, "values": [0,0.301,0.477,0.602,0.699,0.778,0.845,0.903,0.954,1,1.301,1.477,1.602,1.699,1.778,1.845,1.903,1.954,2,2.301,2.477,2.602,2.699,2.778,2.845,2.903,2.954,3,3.301,3.477,3.602,3.699,3.778,3.845,3.903,3.954,4]}},
   "y": {"field": "pct", "type": "quantitative", "scale": {"domain": [0, 100], "nice": false}, "axis": {"title": "% of max", "labels": false, "values": [0,6.25,12.5,18.75,25,31.25,37.5,43.75,50,56.25,62.5,68.75,75,81.25,87.5,93.75,100]}},
   "color": {"field": "series", "type": "nominal", "scale": {"domain": ["iso","wt","wtGFP","ko","koGFP"], "range": ["#b0b0b0","#ee1d25","#3dbff0","#ffa500","#35e52e"]}, "legend": {"labelExpr": "datum.value === 'iso' ? 'Isotype control' : datum.value === 'wt' ? 'CCR2⁺/⁺' : datum.value === 'wtGFP' ? 'CCR2⁺/⁺ Actin-GFP' : datum.value === 'ko' ? 'CCR2⁻/⁻' : 'CCR2⁻/⁻ Actin-GFP'", "encode": {"symbols": {"update": {"fill": {"scale": "color", "field": "value"}, "stroke": {"value": "transparent"}}}}}}},
  "layer": [{"transform": [{"filter": "datum.series === 'iso'"}], "mark": {"type": "area"}}, {"transform": [{"filter": "datum.series !== 'iso'"}], "mark": {"type": "line", "strokeWidth": 1}}]},
 {"data": {"name": "mg_PSGL1"}, "title": "PSGL-1", "width": 106, "height": 103,
  "encoding": {"x": {"field": "logFL", "type": "quantitative", "scale": {"domain": [0, 4], "nice": false, "zero": false}, "axis": {"title": null, "labels": false, "values": [0,0.301,0.477,0.602,0.699,0.778,0.845,0.903,0.954,1,1.301,1.477,1.602,1.699,1.778,1.845,1.903,1.954,2,2.301,2.477,2.602,2.699,2.778,2.845,2.903,2.954,3,3.301,3.477,3.602,3.699,3.778,3.845,3.903,3.954,4]}},
   "y": {"field": "pct", "type": "quantitative", "scale": {"domain": [0, 100], "nice": false}, "axis": {"title": null, "labels": false, "values": [0,6.25,12.5,18.75,25,31.25,37.5,43.75,50,56.25,62.5,68.75,75,81.25,87.5,93.75,100]}},
   "color": {"field": "series", "type": "nominal", "scale": {"domain": ["iso","wt","wtGFP","ko","koGFP"], "range": ["#b0b0b0","#ee1d25","#3dbff0","#ffa500","#35e52e"]}, "legend": {"labelExpr": "datum.value === 'iso' ? 'Isotype control' : datum.value === 'wt' ? 'CCR2⁺/⁺' : datum.value === 'wtGFP' ? 'CCR2⁺/⁺ Actin-GFP' : datum.value === 'ko' ? 'CCR2⁻/⁻' : 'CCR2⁻/⁻ Actin-GFP'", "encode": {"symbols": {"update": {"fill": {"scale": "color", "field": "value"}, "stroke": {"value": "transparent"}}}}}}},
  "layer": [{"transform": [{"filter": "datum.series === 'iso'"}], "mark": {"type": "area"}}, {"transform": [{"filter": "datum.series !== 'iso'"}], "mark": {"type": "line", "strokeWidth": 1}}]},
 {"data": {"name": "mg_a4"}, "title": "integrin alpha 4", "width": 106, "height": 103,
  "encoding": {"x": {"field": "logFL", "type": "quantitative", "scale": {"domain": [0, 4], "nice": false, "zero": false}, "axis": {"title": null, "labels": false, "values": [0,0.301,0.477,0.602,0.699,0.778,0.845,0.903,0.954,1,1.301,1.477,1.602,1.699,1.778,1.845,1.903,1.954,2,2.301,2.477,2.602,2.699,2.778,2.845,2.903,2.954,3,3.301,3.477,3.602,3.699,3.778,3.845,3.903,3.954,4]}},
   "y": {"field": "pct", "type": "quantitative", "scale": {"domain": [0, 100], "nice": false}, "axis": {"title": null, "labels": false, "values": [0,6.25,12.5,18.75,25,31.25,37.5,43.75,50,56.25,62.5,68.75,75,81.25,87.5,93.75,100]}},
   "color": {"field": "series", "type": "nominal", "scale": {"domain": ["iso","wt","wtGFP","ko","koGFP"], "range": ["#b0b0b0","#ee1d25","#3dbff0","#ffa500","#35e52e"]}, "legend": {"labelExpr": "datum.value === 'iso' ? 'Isotype control' : datum.value === 'wt' ? 'CCR2⁺/⁺' : datum.value === 'wtGFP' ? 'CCR2⁺/⁺ Actin-GFP' : datum.value === 'ko' ? 'CCR2⁻/⁻' : 'CCR2⁻/⁻ Actin-GFP'", "encode": {"symbols": {"update": {"fill": {"scale": "color", "field": "value"}, "stroke": {"value": "transparent"}}}}}}},
  "layer": [{"transform": [{"filter": "datum.series === 'iso'"}], "mark": {"type": "area"}}, {"transform": [{"filter": "datum.series !== 'iso'"}], "mark": {"type": "line", "strokeWidth": 1}}]},
 {"data": {"name": "mg_b1"}, "title": "integrin beta 1", "width": 106, "height": 103,
  "encoding": {"x": {"field": "logFL", "type": "quantitative", "scale": {"domain": [0, 4], "nice": false, "zero": false}, "axis": {"title": null, "labels": false, "values": [0,0.301,0.477,0.602,0.699,0.778,0.845,0.903,0.954,1,1.301,1.477,1.602,1.699,1.778,1.845,1.903,1.954,2,2.301,2.477,2.602,2.699,2.778,2.845,2.903,2.954,3,3.301,3.477,3.602,3.699,3.778,3.845,3.903,3.954,4]}},
   "y": {"field": "pct", "type": "quantitative", "scale": {"domain": [0, 100], "nice": false}, "axis": {"title": null, "labels": false, "values": [0,6.25,12.5,18.75,25,31.25,37.5,43.75,50,56.25,62.5,68.75,75,81.25,87.5,93.75,100]}},
   "color": {"field": "series", "type": "nominal", "scale": {"domain": ["iso","wt","wtGFP","ko","koGFP"], "range": ["#b0b0b0","#ee1d25","#3dbff0","#ffa500","#35e52e"]}, "legend": {"labelExpr": "datum.value === 'iso' ? 'Isotype control' : datum.value === 'wt' ? 'CCR2⁺/⁺' : datum.value === 'wtGFP' ? 'CCR2⁺/⁺ Actin-GFP' : datum.value === 'ko' ? 'CCR2⁻/⁻' : 'CCR2⁻/⁻ Actin-GFP'", "encode": {"symbols": {"update": {"fill": {"scale": "color", "field": "value"}, "stroke": {"value": "transparent"}}}}}}},
  "layer": [{"transform": [{"filter": "datum.series === 'iso'"}], "mark": {"type": "area"}}, {"transform": [{"filter": "datum.series !== 'iso'"}], "mark": {"type": "line", "strokeWidth": 1}}]}
]},
{"title": {"text": "inflammatory monocytes", "anchor": "start", "frame": "group", "offset": 10, "dx": 15}, "bounds": "flush", "spacing": 22, "hconcat": [
 {"data": {"name": "mo_CD11c"}, "width": 106, "height": 103,
  "encoding": {"x": {"field": "logFL", "type": "quantitative", "scale": {"domain": [0, 4], "nice": false, "zero": false}, "axis": {"title": null, "labels": false, "values": [0,0.301,0.477,0.602,0.699,0.778,0.845,0.903,0.954,1,1.301,1.477,1.602,1.699,1.778,1.845,1.903,1.954,2,2.301,2.477,2.602,2.699,2.778,2.845,2.903,2.954,3,3.301,3.477,3.602,3.699,3.778,3.845,3.903,3.954,4]}},
   "y": {"field": "pct", "type": "quantitative", "scale": {"domain": [0, 100], "nice": false}, "axis": {"title": "% of max", "labels": false, "values": [0,6.25,12.5,18.75,25,31.25,37.5,43.75,50,56.25,62.5,68.75,75,81.25,87.5,93.75,100]}},
   "color": {"field": "series", "type": "nominal", "scale": {"domain": ["iso","wt","wtGFP","ko","koGFP"], "range": ["#b0b0b0","#ee1d25","#3dbff0","#ffa500","#35e52e"]}, "legend": {"labelExpr": "datum.value === 'iso' ? 'Isotype control' : datum.value === 'wt' ? 'CCR2⁺/⁺' : datum.value === 'wtGFP' ? 'CCR2⁺/⁺ Actin-GFP' : datum.value === 'ko' ? 'CCR2⁻/⁻' : 'CCR2⁻/⁻ Actin-GFP'", "encode": {"symbols": {"update": {"fill": {"scale": "color", "field": "value"}, "stroke": {"value": "transparent"}}}}}}},
  "layer": [{"transform": [{"filter": "datum.series === 'iso'"}], "mark": {"type": "area"}}, {"transform": [{"filter": "datum.series !== 'iso'"}], "mark": {"type": "line", "strokeWidth": 1}}]},
 {"data": {"name": "mo_PSGL1"}, "width": 106, "height": 103,
  "encoding": {"x": {"field": "logFL", "type": "quantitative", "scale": {"domain": [0, 4], "nice": false, "zero": false}, "axis": {"title": null, "labels": false, "values": [0,0.301,0.477,0.602,0.699,0.778,0.845,0.903,0.954,1,1.301,1.477,1.602,1.699,1.778,1.845,1.903,1.954,2,2.301,2.477,2.602,2.699,2.778,2.845,2.903,2.954,3,3.301,3.477,3.602,3.699,3.778,3.845,3.903,3.954,4]}},
   "y": {"field": "pct", "type": "quantitative", "scale": {"domain": [0, 100], "nice": false}, "axis": {"title": null, "labels": false, "values": [0,6.25,12.5,18.75,25,31.25,37.5,43.75,50,56.25,62.5,68.75,75,81.25,87.5,93.75,100]}},
   "color": {"field": "series", "type": "nominal", "scale": {"domain": ["iso","wt","wtGFP","ko","koGFP"], "range": ["#b0b0b0","#ee1d25","#3dbff0","#ffa500","#35e52e"]}, "legend": {"labelExpr": "datum.value === 'iso' ? 'Isotype control' : datum.value === 'wt' ? 'CCR2⁺/⁺' : datum.value === 'wtGFP' ? 'CCR2⁺/⁺ Actin-GFP' : datum.value === 'ko' ? 'CCR2⁻/⁻' : 'CCR2⁻/⁻ Actin-GFP'", "encode": {"symbols": {"update": {"fill": {"scale": "color", "field": "value"}, "stroke": {"value": "transparent"}}}}}}},
  "layer": [{"transform": [{"filter": "datum.series === 'iso'"}], "mark": {"type": "area"}}, {"transform": [{"filter": "datum.series !== 'iso'"}], "mark": {"type": "line", "strokeWidth": 1}}]},
 {"data": {"name": "mo_a4"}, "width": 106, "height": 103,
  "encoding": {"x": {"field": "logFL", "type": "quantitative", "scale": {"domain": [0, 4], "nice": false, "zero": false}, "axis": {"title": null, "labels": false, "values": [0,0.301,0.477,0.602,0.699,0.778,0.845,0.903,0.954,1,1.301,1.477,1.602,1.699,1.778,1.845,1.903,1.954,2,2.301,2.477,2.602,2.699,2.778,2.845,2.903,2.954,3,3.301,3.477,3.602,3.699,3.778,3.845,3.903,3.954,4]}},
   "y": {"field": "pct", "type": "quantitative", "scale": {"domain": [0, 100], "nice": false}, "axis": {"title": null, "labels": false, "values": [0,6.25,12.5,18.75,25,31.25,37.5,43.75,50,56.25,62.5,68.75,75,81.25,87.5,93.75,100]}},
   "color": {"field": "series", "type": "nominal", "scale": {"domain": ["iso","wt","wtGFP","ko","koGFP"], "range": ["#b0b0b0","#ee1d25","#3dbff0","#ffa500","#35e52e"]}, "legend": {"labelExpr": "datum.value === 'iso' ? 'Isotype control' : datum.value === 'wt' ? 'CCR2⁺/⁺' : datum.value === 'wtGFP' ? 'CCR2⁺/⁺ Actin-GFP' : datum.value === 'ko' ? 'CCR2⁻/⁻' : 'CCR2⁻/⁻ Actin-GFP'", "encode": {"symbols": {"update": {"fill": {"scale": "color", "field": "value"}, "stroke": {"value": "transparent"}}}}}}},
  "layer": [{"transform": [{"filter": "datum.series === 'iso'"}], "mark": {"type": "area"}}, {"transform": [{"filter": "datum.series !== 'iso'"}], "mark": {"type": "line", "strokeWidth": 1}}]},
 {"data": {"name": "mo_b1"}, "width": 106, "height": 103,
  "encoding": {"x": {"field": "logFL", "type": "quantitative", "scale": {"domain": [0, 4], "nice": false, "zero": false}, "axis": {"title": null, "labels": false, "values": [0,0.301,0.477,0.602,0.699,0.778,0.845,0.903,0.954,1,1.301,1.477,1.602,1.699,1.778,1.845,1.903,1.954,2,2.301,2.477,2.602,2.699,2.778,2.845,2.903,2.954,3,3.301,3.477,3.602,3.699,3.778,3.845,3.903,3.954,4]}},
   "y": {"field": "pct", "type": "quantitative", "scale": {"domain": [0, 100], "nice": false}, "axis": {"title": null, "labels": false, "values": [0,6.25,12.5,18.75,25,31.25,37.5,43.75,50,56.25,62.5,68.75,75,81.25,87.5,93.75,100]}},
   "color": {"field": "series", "type": "nominal", "scale": {"domain": ["iso","wt","wtGFP","ko","koGFP"], "range": ["#b0b0b0","#ee1d25","#3dbff0","#ffa500","#35e52e"]}, "legend": {"labelExpr": "datum.value === 'iso' ? 'Isotype control' : datum.value === 'wt' ? 'CCR2⁺/⁺' : datum.value === 'wtGFP' ? 'CCR2⁺/⁺ Actin-GFP' : datum.value === 'ko' ? 'CCR2⁻/⁻' : 'CCR2⁻/⁻ Actin-GFP'", "encode": {"symbols": {"update": {"fill": {"scale": "color", "field": "value"}, "stroke": {"value": "transparent"}}}}}}},
  "layer": [{"transform": [{"filter": "datum.series === 'iso'"}], "mark": {"type": "area"}}, {"transform": [{"filter": "datum.series !== 'iso'"}], "mark": {"type": "line", "strokeWidth": 1}}]}
]},
{"title": {"text": "macrophages", "anchor": "start", "frame": "group", "offset": 8, "dx": 15}, "bounds": "flush", "spacing": 22, "hconcat": [
 {"data": {"name": "ma_CD11c"}, "width": 106, "height": 103,
  "encoding": {"x": {"field": "logFL", "type": "quantitative", "scale": {"domain": [0, 4], "nice": false, "zero": false}, "axis": {"title": null, "labelExpr": "datum.value === 1 ? '10¹' : datum.value === 2 ? '10²' : datum.value === 3 ? '10³' : datum.value === 4 ? '10⁴' : ''", "values": [0,0.301,0.477,0.602,0.699,0.778,0.845,0.903,0.954,1,1.301,1.477,1.602,1.699,1.778,1.845,1.903,1.954,2,2.301,2.477,2.602,2.699,2.778,2.845,2.903,2.954,3,3.301,3.477,3.602,3.699,3.778,3.845,3.903,3.954,4]}},
   "y": {"field": "pct", "type": "quantitative", "scale": {"domain": [0, 100], "nice": false}, "axis": {"title": "% of max", "labels": false, "values": [0,6.25,12.5,18.75,25,31.25,37.5,43.75,50,56.25,62.5,68.75,75,81.25,87.5,93.75,100]}},
   "color": {"field": "series", "type": "nominal", "scale": {"domain": ["iso","wt","wtGFP","ko","koGFP"], "range": ["#b0b0b0","#ee1d25","#3dbff0","#ffa500","#35e52e"]}, "legend": {"labelExpr": "datum.value === 'iso' ? 'Isotype control' : datum.value === 'wt' ? 'CCR2⁺/⁺' : datum.value === 'wtGFP' ? 'CCR2⁺/⁺ Actin-GFP' : datum.value === 'ko' ? 'CCR2⁻/⁻' : 'CCR2⁻/⁻ Actin-GFP'", "encode": {"symbols": {"update": {"fill": {"scale": "color", "field": "value"}, "stroke": {"value": "transparent"}}}}}}},
  "layer": [{"transform": [{"filter": "datum.series === 'iso'"}], "mark": {"type": "area"}}, {"transform": [{"filter": "datum.series !== 'iso'"}], "mark": {"type": "line", "strokeWidth": 1}}]},
 {"data": {"name": "ma_PSGL1"}, "width": 106, "height": 103,
  "encoding": {"x": {"field": "logFL", "type": "quantitative", "scale": {"domain": [0, 4], "nice": false, "zero": false}, "axis": {"title": null, "labelExpr": "datum.value === 1 ? '10¹' : datum.value === 2 ? '10²' : datum.value === 3 ? '10³' : datum.value === 4 ? '10⁴' : ''", "values": [0,0.301,0.477,0.602,0.699,0.778,0.845,0.903,0.954,1,1.301,1.477,1.602,1.699,1.778,1.845,1.903,1.954,2,2.301,2.477,2.602,2.699,2.778,2.845,2.903,2.954,3,3.301,3.477,3.602,3.699,3.778,3.845,3.903,3.954,4]}},
   "y": {"field": "pct", "type": "quantitative", "scale": {"domain": [0, 100], "nice": false}, "axis": {"title": null, "labels": false, "values": [0,6.25,12.5,18.75,25,31.25,37.5,43.75,50,56.25,62.5,68.75,75,81.25,87.5,93.75,100]}},
   "color": {"field": "series", "type": "nominal", "scale": {"domain": ["iso","wt","wtGFP","ko","koGFP"], "range": ["#b0b0b0","#ee1d25","#3dbff0","#ffa500","#35e52e"]}, "legend": {"labelExpr": "datum.value === 'iso' ? 'Isotype control' : datum.value === 'wt' ? 'CCR2⁺/⁺' : datum.value === 'wtGFP' ? 'CCR2⁺/⁺ Actin-GFP' : datum.value === 'ko' ? 'CCR2⁻/⁻' : 'CCR2⁻/⁻ Actin-GFP'", "encode": {"symbols": {"update": {"fill": {"scale": "color", "field": "value"}, "stroke": {"value": "transparent"}}}}}}},
  "layer": [{"transform": [{"filter": "datum.series === 'iso'"}], "mark": {"type": "area"}}, {"transform": [{"filter": "datum.series !== 'iso'"}], "mark": {"type": "line", "strokeWidth": 1}}]},
 {"data": {"name": "ma_a4"}, "width": 106, "height": 103,
  "encoding": {"x": {"field": "logFL", "type": "quantitative", "scale": {"domain": [0, 4], "nice": false, "zero": false}, "axis": {"title": null, "labelExpr": "datum.value === 1 ? '10¹' : datum.value === 2 ? '10²' : datum.value === 3 ? '10³' : datum.value === 4 ? '10⁴' : ''", "values": [0,0.301,0.477,0.602,0.699,0.778,0.845,0.903,0.954,1,1.301,1.477,1.602,1.699,1.778,1.845,1.903,1.954,2,2.301,2.477,2.602,2.699,2.778,2.845,2.903,2.954,3,3.301,3.477,3.602,3.699,3.778,3.845,3.903,3.954,4]}},
   "y": {"field": "pct", "type": "quantitative", "scale": {"domain": [0, 100], "nice": false}, "axis": {"title": null, "labels": false, "values": [0,6.25,12.5,18.75,25,31.25,37.5,43.75,50,56.25,62.5,68.75,75,81.25,87.5,93.75,100]}},
   "color": {"field": "series", "type": "nominal", "scale": {"domain": ["iso","wt","wtGFP","ko","koGFP"], "range": ["#b0b0b0","#ee1d25","#3dbff0","#ffa500","#35e52e"]}, "legend": {"labelExpr": "datum.value === 'iso' ? 'Isotype control' : datum.value === 'wt' ? 'CCR2⁺/⁺' : datum.value === 'wtGFP' ? 'CCR2⁺/⁺ Actin-GFP' : datum.value === 'ko' ? 'CCR2⁻/⁻' : 'CCR2⁻/⁻ Actin-GFP'", "encode": {"symbols": {"update": {"fill": {"scale": "color", "field": "value"}, "stroke": {"value": "transparent"}}}}}}},
  "layer": [{"transform": [{"filter": "datum.series === 'iso'"}], "mark": {"type": "area"}}, {"transform": [{"filter": "datum.series !== 'iso'"}], "mark": {"type": "line", "strokeWidth": 1}}]},
 {"data": {"name": "ma_b1"}, "width": 106, "height": 103,
  "encoding": {"x": {"field": "logFL", "type": "quantitative", "scale": {"domain": [0, 4], "nice": false, "zero": false}, "axis": {"title": null, "labelExpr": "datum.value === 1 ? '10¹' : datum.value === 2 ? '10²' : datum.value === 3 ? '10³' : datum.value === 4 ? '10⁴' : ''", "values": [0,0.301,0.477,0.602,0.699,0.778,0.845,0.903,0.954,1,1.301,1.477,1.602,1.699,1.778,1.845,1.903,1.954,2,2.301,2.477,2.602,2.699,2.778,2.845,2.903,2.954,3,3.301,3.477,3.602,3.699,3.778,3.845,3.903,3.954,4]}},
   "y": {"field": "pct", "type": "quantitative", "scale": {"domain": [0, 100], "nice": false}, "axis": {"title": null, "labels": false, "values": [0,6.25,12.5,18.75,25,31.25,37.5,43.75,50,56.25,62.5,68.75,75,81.25,87.5,93.75,100]}},
   "color": {"field": "series", "type": "nominal", "scale": {"domain": ["iso","wt","wtGFP","ko","koGFP"], "range": ["#b0b0b0","#ee1d25","#3dbff0","#ffa500","#35e52e"]}, "legend": {"labelExpr": "datum.value === 'iso' ? 'Isotype control' : datum.value === 'wt' ? 'CCR2⁺/⁺' : datum.value === 'wtGFP' ? 'CCR2⁺/⁺ Actin-GFP' : datum.value === 'ko' ? 'CCR2⁻/⁻' : 'CCR2⁻/⁻ Actin-GFP'", "encode": {"symbols": {"update": {"fill": {"scale": "color", "field": "value"}, "stroke": {"value": "transparent"}}}}}}},
  "layer": [{"transform": [{"filter": "datum.series === 'iso'"}], "mark": {"type": "area"}}, {"transform": [{"filter": "datum.series !== 'iso'"}], "mark": {"type": "line", "strokeWidth": 1}}]}
]}
]
}
